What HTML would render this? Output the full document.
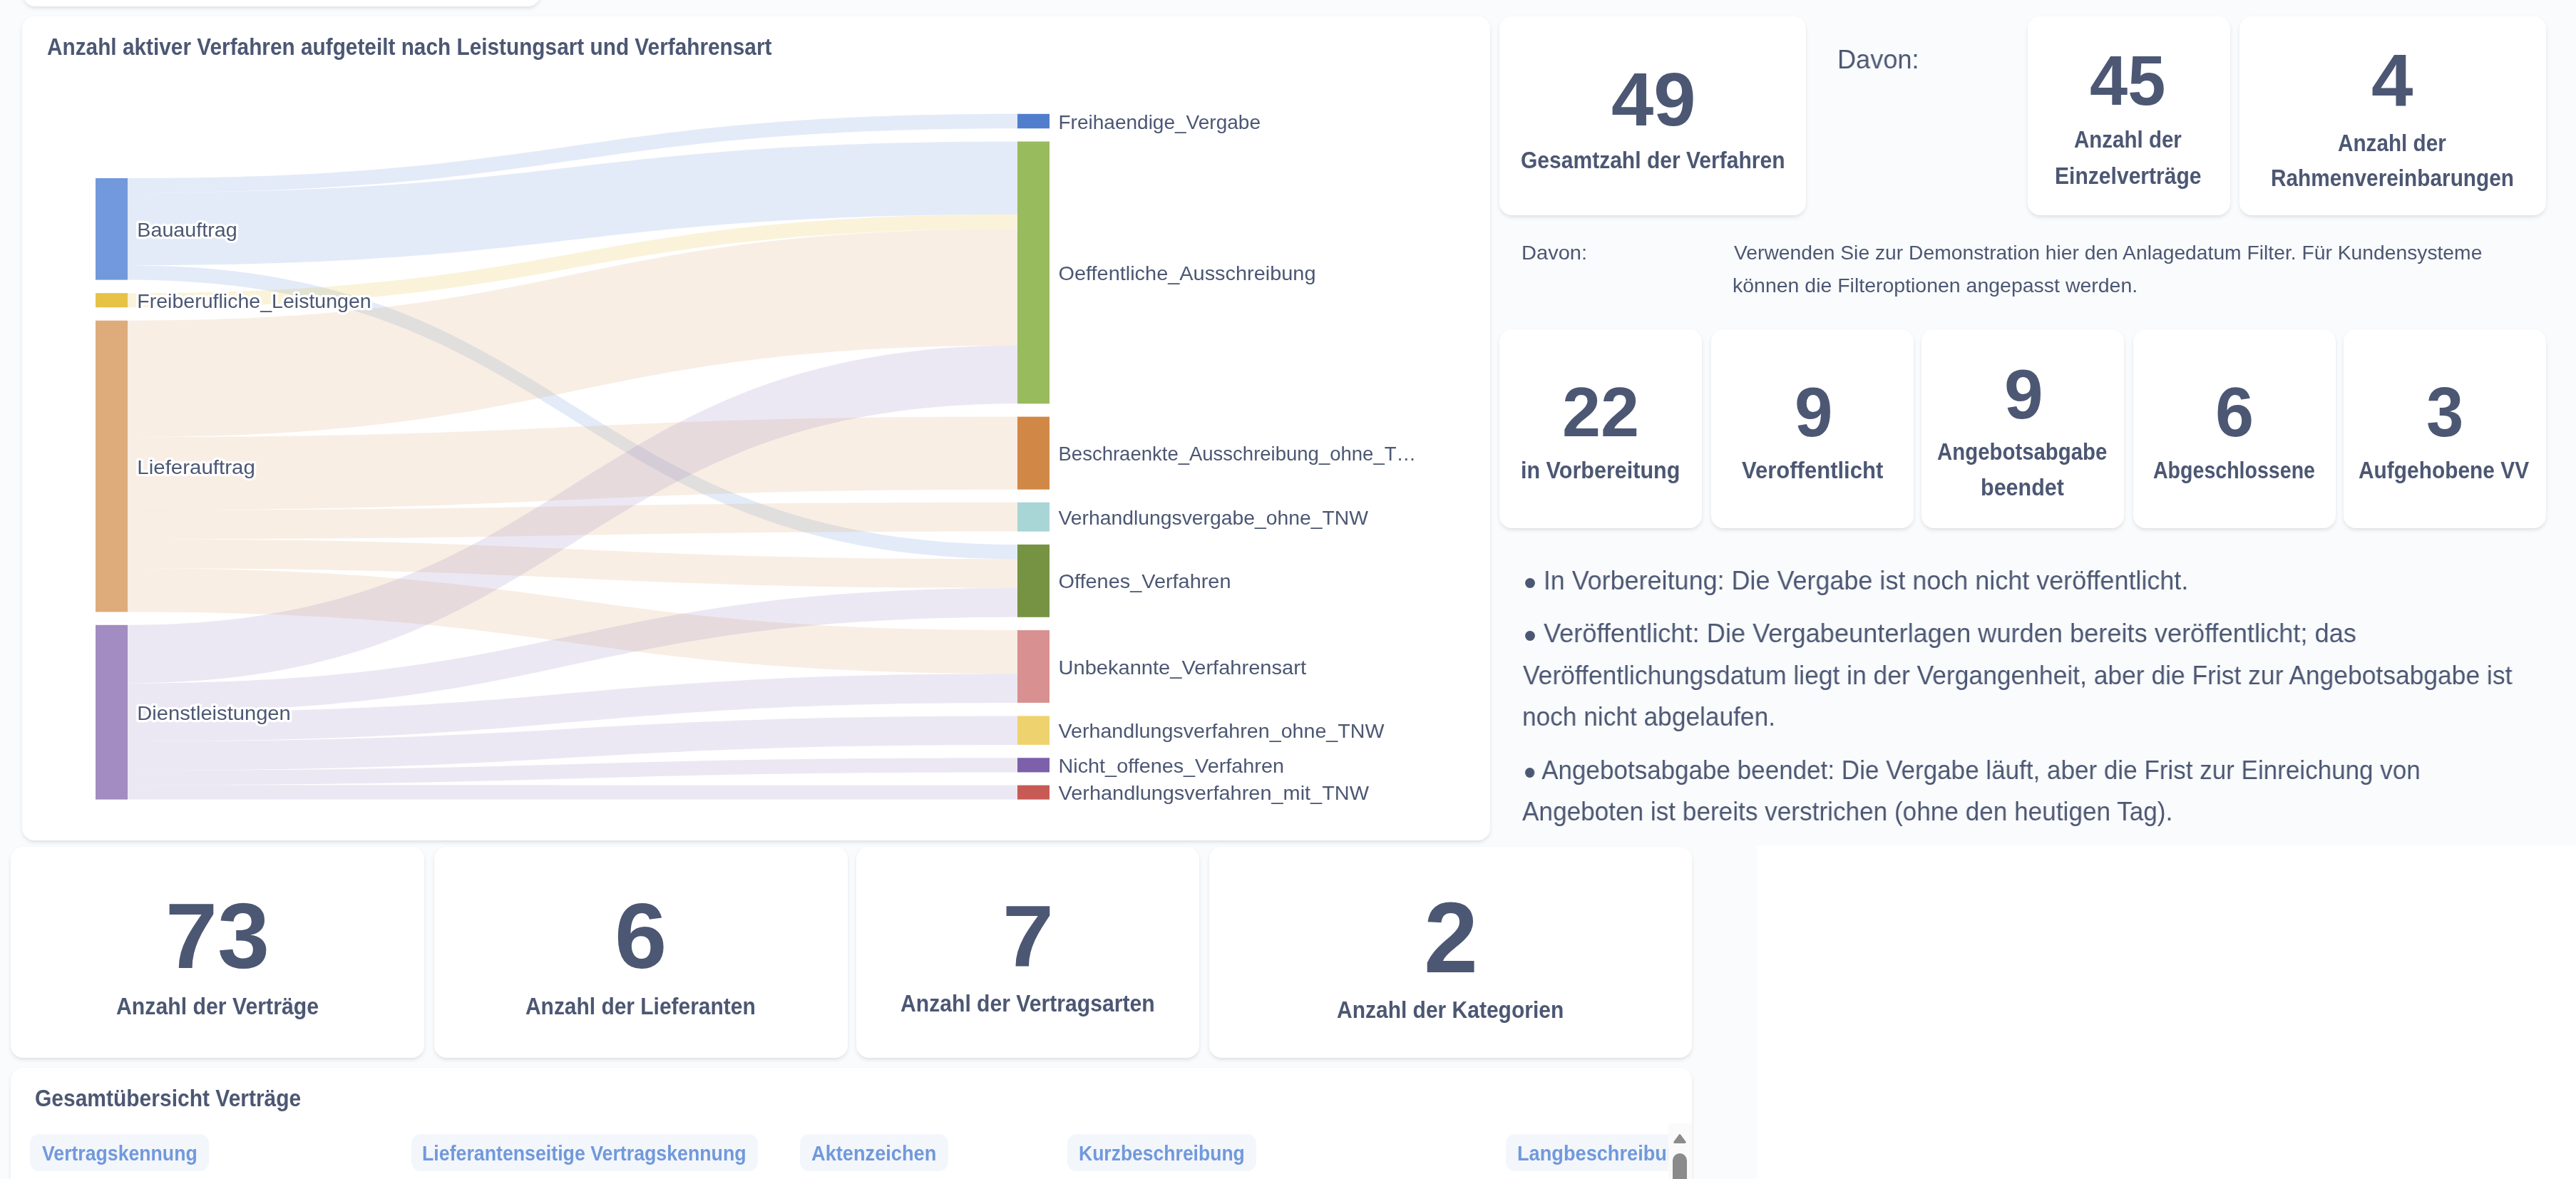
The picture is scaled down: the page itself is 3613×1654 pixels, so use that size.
<!DOCTYPE html>
<html lang="de">
<head>
<meta charset="utf-8">
<title>Vergabe Dashboard</title>
<style>
html,body{margin:0;padding:0}
html{width:3613px;height:1654px;overflow:hidden}
body{width:3613px;height:1654px;overflow:hidden;position:relative;background:#F9FBFC;font-family:"Liberation Sans", sans-serif;color:#4C5773}
.white{position:absolute;left:2464px;top:1186px;width:1149px;height:468px;background:#fff}
.card{position:absolute;will-change:transform;background:#fff;border-radius:17.5px;box-shadow:0 3px 7px -2px rgba(0,0,0,.17)}
.card.table{overflow:hidden;border-bottom-left-radius:0;border-bottom-right-radius:0}
.t{position:absolute;margin:0;padding:0;white-space:nowrap;line-height:1;font-weight:400;transform-origin:0 0;color:#4C5773}
.b{font-weight:700}
.bul{font-size:1.41em;line-height:0;position:relative;top:.154em}
.chart{position:absolute;left:0;top:0}
.chart text{font-family:"Liberation Sans", sans-serif;font-size:27.6px;fill:#4C5773}
.chart text.halo{stroke:#fff;stroke-width:6.5px;stroke-linejoin:round;paint-order:stroke fill}
.pill{position:absolute;background:#F3F6FB;border-radius:13px}
.pill .t{color:#7199DB}
.sb{position:absolute;left:2324.5px;top:78.4px;width:34px;height:200px;background:#FAFAFA}
.sbarrow{position:absolute;left:6.6px;top:13.6px}
.sbthumb{position:absolute;left:6.6px;top:41.4px;width:19.8px;height:200px;border-radius:9.9px;background:#8B8B8B}
</style>
</head>
<body>
<div class="white"></div>
<main>
<section class="card top" style="left:32.0px;top:-40.0px;width:725.5px;height:49.0px">

</section>
<section class="card sankey" style="left:31.0px;top:23.0px;width:2059.0px;height:1156.3px">
<svg class="chart" width="2059" height="1156" viewBox="0 0 2059 1156">
<g class="links"><path d="M148.0,227.0C772.0,227.0 772.0,136.8 1396.0,136.8L1396.0,157.2C772.0,157.2 772.0,247.4 148.0,247.4Z" fill="#7199DB" fill-opacity="0.2"/><path d="M148.0,247.4C772.0,247.4 772.0,175.5 1396.0,175.5L1396.0,277.7C772.0,277.7 772.0,349.2 148.0,349.2Z" fill="#7199DB" fill-opacity="0.2"/><path d="M148.0,349.2C772.0,349.2 772.0,740.9 1396.0,740.9L1396.0,761.3C772.0,761.3 772.0,369.6 148.0,369.6Z" fill="#7199DB" fill-opacity="0.2"/><path d="M148.0,388.2C772.0,388.2 772.0,277.7 1396.0,277.7L1396.0,298.1C772.0,298.1 772.0,408.2 148.0,408.2Z" fill="#E6C245" fill-opacity="0.2"/><path d="M148.0,426.7C772.0,426.7 772.0,298.1 1396.0,298.1L1396.0,461.6C772.0,461.6 772.0,590.2 148.0,590.2Z" fill="#DEAB7A" fill-opacity="0.2"/><path d="M148.0,590.2C772.0,590.2 772.0,561.6 1396.0,561.6L1396.0,663.7C772.0,663.7 772.0,692.4 148.0,692.4Z" fill="#DEAB7A" fill-opacity="0.2"/><path d="M148.0,692.4C772.0,692.4 772.0,681.8 1396.0,681.8L1396.0,722.6C772.0,722.6 772.0,733.3 148.0,733.3Z" fill="#DEAB7A" fill-opacity="0.2"/><path d="M148.0,733.3C772.0,733.3 772.0,761.3 1396.0,761.3L1396.0,802.0C772.0,802.0 772.0,774.2 148.0,774.2Z" fill="#DEAB7A" fill-opacity="0.2"/><path d="M148.0,774.2C772.0,774.2 772.0,861.1 1396.0,861.1L1396.0,922.2C772.0,922.2 772.0,835.5 148.0,835.5Z" fill="#DEAB7A" fill-opacity="0.2"/><path d="M148.0,853.8C772.0,853.8 772.0,461.6 1396.0,461.6L1396.0,543.3C772.0,543.3 772.0,935.4 148.0,935.4Z" fill="#A28CC2" fill-opacity="0.2"/><path d="M148.0,935.4C772.0,935.4 772.0,802.0 1396.0,802.0L1396.0,842.8C772.0,842.8 772.0,976.2 148.0,976.2Z" fill="#A28CC2" fill-opacity="0.2"/><path d="M148.0,976.2C772.0,976.2 772.0,922.2 1396.0,922.2L1396.0,962.9C772.0,962.9 772.0,1017.0 148.0,1017.0Z" fill="#A28CC2" fill-opacity="0.2"/><path d="M148.0,1017.0C772.0,1017.0 772.0,981.4 1396.0,981.4L1396.0,1021.9C772.0,1021.9 772.0,1057.8 148.0,1057.8Z" fill="#A28CC2" fill-opacity="0.2"/><path d="M148.0,1057.8C772.0,1057.8 772.0,1040.2 1396.0,1040.2L1396.0,1060.4C772.0,1060.4 772.0,1078.2 148.0,1078.2Z" fill="#A28CC2" fill-opacity="0.2"/><path d="M148.0,1078.2C772.0,1078.2 772.0,1078.6 1396.0,1078.6L1396.0,1098.6C772.0,1098.6 772.0,1098.6 148.0,1098.6Z" fill="#A28CC2" fill-opacity="0.2"/></g>
<g class="nodes"><rect x="103" y="227.0" width="45" height="142.6" fill="#7199DB"/><rect x="103" y="388.2" width="45" height="20.0" fill="#E6C245"/><rect x="103" y="426.7" width="45" height="408.8" fill="#DEAB7A"/><rect x="103" y="853.8" width="45" height="244.8" fill="#A28CC2"/><rect x="1396" y="136.8" width="45" height="20.4" fill="#517ECC"/><rect x="1396" y="175.5" width="45" height="367.8" fill="#98BB5D"/><rect x="1396" y="561.6" width="45" height="102.1" fill="#D18846"/><rect x="1396" y="681.8" width="45" height="40.8" fill="#A8D5D5"/><rect x="1396" y="740.9" width="45" height="101.9" fill="#759342"/><rect x="1396" y="861.1" width="45" height="101.8" fill="#D89090"/><rect x="1396" y="981.4" width="45" height="40.5" fill="#EED26E"/><rect x="1396" y="1040.2" width="45" height="20.2" fill="#7C60AA"/><rect x="1396" y="1078.6" width="45" height="20.0" fill="#C85A55"/></g>
<g class="labels"><text x="161.3" y="308.9" textLength="140.4" lengthAdjust="spacingAndGlyphs" class="halo">Bauauftrag</text><text x="161.3" y="408.8" textLength="328.4" lengthAdjust="spacingAndGlyphs" class="halo">Freiberufliche_Leistungen</text><text x="161.3" y="641.7" textLength="165.5" lengthAdjust="spacingAndGlyphs" class="halo">Lieferauftrag</text><text x="161.3" y="986.8" textLength="215.5" lengthAdjust="spacingAndGlyphs" class="halo">Dienstleistungen</text><text x="1453.5" y="157.6" textLength="283.5" lengthAdjust="spacingAndGlyphs">Freihaendige_Vergabe</text><text x="1453.5" y="370.0" textLength="361" lengthAdjust="spacingAndGlyphs">Oeffentliche_Ausschreibung</text><text x="1453.5" y="623.3" textLength="501.5" lengthAdjust="spacingAndGlyphs">Beschraenkte_Ausschreibung_ohne_T…</text><text x="1453.5" y="712.8" textLength="434.5" lengthAdjust="spacingAndGlyphs">Verhandlungsvergabe_ohne_TNW</text><text x="1453.5" y="802.4" textLength="242" lengthAdjust="spacingAndGlyphs">Offenes_Verfahren</text><text x="1453.5" y="922.6" textLength="347.5" lengthAdjust="spacingAndGlyphs">Unbekannte_Verfahrensart</text><text x="1453.5" y="1012.2" textLength="457" lengthAdjust="spacingAndGlyphs">Verhandlungsverfahren_ohne_TNW</text><text x="1453.5" y="1060.9" textLength="316.5" lengthAdjust="spacingAndGlyphs">Nicht_offenes_Verfahren</text><text x="1453.5" y="1099.2" textLength="435.5" lengthAdjust="spacingAndGlyphs">Verhandlungsverfahren_mit_TNW</text></g>
</svg>
<h2 class="t b" style="left:35.10px;top:25.97px;font-size:33.0px;transform:scaleX(0.9027);">Anzahl aktiver Verfahren aufgeteilt nach Leistungsart und Verfahrensart</h2>
</section>
<section class="card c49" style="left:2103.0px;top:23.0px;width:430.0px;height:279.0px">
<div class="t b" style="left:156.90px;top:63.92px;font-size:105px;transform:scaleX(1.0158);">49</div>
<div class="t b" style="left:30.10px;top:185.07px;font-size:33.0px;transform:scaleX(0.9099);">Gesamtzahl der Verfahren</div>
</section>
<section class="card c45" style="left:2843.5px;top:23.0px;width:283.5px;height:279.0px">
<div class="t b" style="left:86.70px;top:41.34px;font-size:98px;transform:scaleX(0.9758);">45</div>
<div class="t b" style="left:65.05px;top:155.67px;font-size:33.0px;transform:scaleX(0.8940);">Anzahl der</div>
<div class="t b" style="left:38.20px;top:206.57px;font-size:33.0px;transform:scaleX(0.9113);">Einzelverträge</div>
</section>
<section class="card c4" style="left:3140.7px;top:23.0px;width:429.8px;height:279.0px">
<div class="t b" style="left:185.40px;top:38.14px;font-size:104.5px;transform:scaleX(1.0060);">4</div>
<div class="t b" style="left:138.20px;top:160.97px;font-size:33.0px;transform:scaleX(0.9000);">Anzahl der</div>
<div class="t b" style="left:43.80px;top:210.07px;font-size:33.0px;transform:scaleX(0.9027);">Rahmenvereinbarungen</div>
</section>
<section class="card c22" style="left:2103.0px;top:461.7px;width:284.2px;height:279.0px">
<div class="t b" style="left:88.30px;top:65.70px;font-size:99px;transform:scaleX(0.9823);">22</div>
<div class="t b" style="left:30.45px;top:181.07px;font-size:33.0px;transform:scaleX(0.9254);">in Vorbereitung</div>
</section>
<section class="card c9a" style="left:2400.3px;top:461.7px;width:283.7px;height:279.0px">
<div class="t b" style="left:117.00px;top:65.70px;font-size:99px;transform:scaleX(0.9718);">9</div>
<div class="t b" style="left:42.65px;top:181.07px;font-size:33.0px;transform:scaleX(0.9403);">Veroffentlicht</div>
</section>
<section class="card c9b" style="left:2695.0px;top:461.7px;width:283.6px;height:279.0px">
<div class="t b" style="left:116.35px;top:40.80px;font-size:99px;transform:scaleX(0.9923);">9</div>
<div class="t b" style="left:21.95px;top:155.37px;font-size:33.0px;transform:scaleX(0.8906);">Angebotsabgabe</div>
<div class="t b" style="left:82.60px;top:205.07px;font-size:33.0px;transform:scaleX(0.9241);">beendet</div>
</section>
<section class="card c6" style="left:2992.0px;top:461.7px;width:283.7px;height:279.0px">
<div class="t b" style="left:115.35px;top:65.70px;font-size:99px;transform:scaleX(0.9820);">6</div>
<div class="t b" style="left:28.10px;top:181.07px;font-size:33.0px;transform:scaleX(0.8654);">Abgeschlossene</div>
</section>
<section class="card c3" style="left:3287.0px;top:461.7px;width:283.5px;height:279.0px">
<div class="t b" style="left:116.25px;top:65.70px;font-size:99px;transform:scaleX(0.9502);">3</div>
<div class="t b" style="left:21.10px;top:181.07px;font-size:33.0px;transform:scaleX(0.9057);">Aufgehobene VV</div>
</section>
<section class="card c73" style="left:15.0px;top:1187.8px;width:580.0px;height:296.2px">
<div class="t b" style="left:216.80px;top:60.33px;font-size:130.5px;transform:scaleX(1.0070);">73</div>
<div class="t b" style="left:148.10px;top:206.77px;font-size:33.0px;transform:scaleX(0.9163);">Anzahl der Verträge</div>
</section>
<section class="card c6l" style="left:609.0px;top:1187.8px;width:579.5px;height:296.2px">
<div class="t b" style="left:252.60px;top:60.33px;font-size:130.5px;transform:scaleX(1.0105);">6</div>
<div class="t b" style="left:127.95px;top:206.77px;font-size:33.0px;transform:scaleX(0.9071);">Anzahl der Lieferanten</div>
</section>
<section class="card c7" style="left:1201.0px;top:1187.8px;width:481.0px;height:296.2px">
<div class="t b" style="left:204.60px;top:66.35px;font-size:121.5px;transform:scaleX(1.0646);">7</div>
<div class="t b" style="left:62.10px;top:203.27px;font-size:33.0px;transform:scaleX(0.9129);">Anzahl der Vertragsarten</div>
</section>
<section class="card c2" style="left:1695.6px;top:1187.8px;width:677.3px;height:296.2px">
<div class="t b" style="left:300.90px;top:57.77px;font-size:140.5px;transform:scaleX(0.9726);">2</div>
<div class="t b" style="left:179.35px;top:211.87px;font-size:33.0px;transform:scaleX(0.9086);">Anzahl der Kategorien</div>
</section>
<section class="card table" style="left:15.0px;top:1498.0px;width:2357.9px;height:156.0px">
<h2 class="t b" style="left:34.15px;top:26.07px;font-size:33.0px;transform:scaleX(0.9086);">Gesamtübersicht Verträge</h2>
<div class="thead"><div class="pill" style="left:27.0px;top:93.1px;width:250.7px;height:51.7px"><span class="t b" style="left:17.05px;top:11.45px;font-size:30.3px;transform:scaleX(0.8796);">Vertragskennung</span></div><div class="pill" style="left:561.8px;top:93.1px;width:486.0px;height:51.7px"><span class="t b" style="left:15.45px;top:11.45px;font-size:30.3px;transform:scaleX(0.8824);">Lieferantenseitige Vertragskennung</span></div><div class="pill" style="left:1106.9px;top:93.1px;width:207.8px;height:51.7px"><span class="t b" style="left:16.25px;top:11.45px;font-size:30.3px;transform:scaleX(0.8974);">Aktenzeichen</span></div><div class="pill" style="left:1481.7px;top:93.1px;width:265.0px;height:51.7px"><span class="t b" style="left:16.50px;top:11.45px;font-size:30.3px;transform:scaleX(0.8752);">Kurzbeschreibung</span></div><div class="pill" style="left:2097.0px;top:93.1px;width:288.0px;height:51.7px"><span class="t b" style="left:16.40px;top:11.45px;font-size:30.3px;transform:scaleX(0.8970);">Langbeschreibung</span></div></div>
<div class="sb"><svg class="sbarrow" width="20" height="15" viewBox="0 0 20 15"><path d="M10 2.6 L17.2 12.4 L2.8 12.4 Z" fill="#8B8B8B" stroke="#8B8B8B" stroke-width="3" stroke-linejoin="round"/></svg><div class="sbthumb"></div></div>
</section>
<aside class="notes" style="will-change:transform">
<p class="t" style="left:2577.10px;top:66.10px;font-size:36.5px;transform:scaleX(0.9901);">Davon:</p>
<p class="t" style="left:2134.20px;top:340.99px;font-size:27.3px;transform:scaleX(1.0643);">Davon:</p>
<p class="t" style="left:2432.05px;top:340.99px;font-size:27.3px;transform:scaleX(1.0353);">Verwenden Sie zur Demonstration hier den Anlagedatum Filter. Für Kundensysteme</p>
<p class="t" style="left:2430.25px;top:387.19px;font-size:27.3px;transform:scaleX(1.0429);">können die Filteroptionen angepasst werden.</p>
<p class="t" style="left:2136.60px;top:796.80px;font-size:36.5px;transform:scaleX(0.9849);"><span class="bul">•</span> In Vorbereitung: Die Vergabe ist noch nicht veröffentlicht.</p>
<p class="t" style="left:2136.60px;top:871.40px;font-size:36.5px;transform:scaleX(0.9920);"><span class="bul">•</span> Veröffentlicht: Die Vergabeunterlagen wurden bereits veröffentlicht; das</p>
<p class="t" style="left:2136.00px;top:930.10px;font-size:36.5px;transform:scaleX(0.9703);">Veröffentlichungsdatum liegt in der Vergangenheit, aber die Frist zur Angebotsabgabe ist</p>
<p class="t" style="left:2135.40px;top:987.70px;font-size:36.5px;transform:scaleX(0.9663);">noch nicht abgelaufen.</p>
<p class="t" style="left:2136.60px;top:1063.00px;font-size:36.5px;transform:scaleX(0.9597);"><span class="bul">•</span> Angebotsabgabe beendet: Die Vergabe läuft, aber die Frist zur Einreichung von</p>
<p class="t" style="left:2135.40px;top:1120.90px;font-size:36.5px;transform:scaleX(0.9635);">Angeboten ist bereits verstrichen (ohne den heutigen Tag).</p>
</aside>
</main>
</body>
</html>
